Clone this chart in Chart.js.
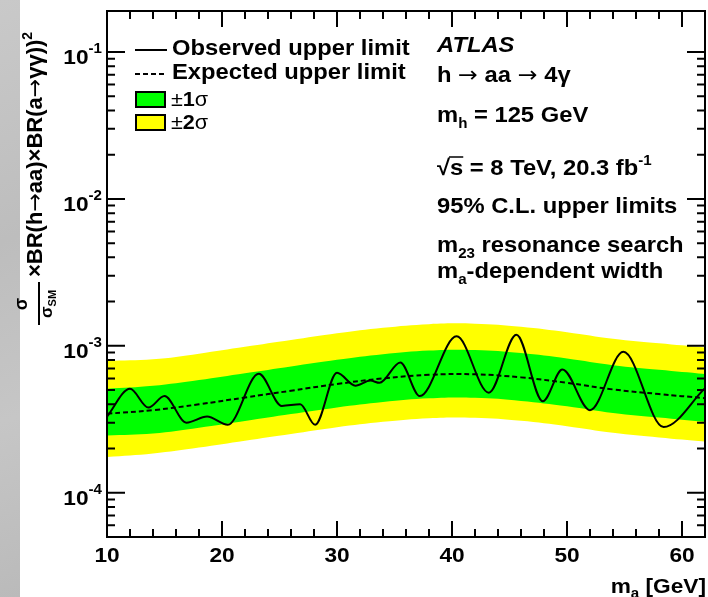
<!DOCTYPE html>
<html>
<head>
<meta charset="utf-8">
<script src="https://cdn.jsdelivr.net/npm/chart.js@4/dist/chart.umd.min.js"></script>
<style>
    html, body { margin: 0; padding: 0; background: #ffffff; }
    #wrap { position: relative; width: 708px; height: 597px; }
    #strip {
        position: absolute; left: 0; top: 0; width: 20px; height: 597px;
        background: linear-gradient(160deg, #c9c9c9 0%, #bdbdbd 40%, #c6c6c6 70%, #bababa 100%);
    }
    #limits { position: absolute; left: 0; top: 0; }
</style>
</head>
<body>
<div id="wrap">
    <div id="strip"></div>
    <canvas id="limits" width="708" height="597"></canvas>
</div>
<script>
// Expected limit and its bands, sampled every 4 GeV
const massGrid = [10, 14, 18, 22, 26, 30, 34, 38, 42, 46, 50, 54, 58, 62];
const expectedLimit = [3.45e-4, 3.65e-4, 4.0e-4, 4.45e-4, 4.95e-4, 5.5e-4, 6.0e-4, 6.35e-4, 6.4e-4, 6.1e-4, 5.6e-4, 5.05e-4, 4.7e-4, 4.4e-4];
const band1Low = [2.45e-4, 2.53e-4, 2.77e-4, 3.08e-4, 3.43e-4, 3.81e-4, 4.15e-4, 4.39e-4, 4.43e-4, 4.22e-4, 3.88e-4, 3.49e-4, 3.25e-4, 3.04e-4];
const band1High = [5.1e-4, 5.34e-4, 5.85e-4, 6.51e-4, 7.24e-4, 8.04e-4, 8.77e-4, 9.28e-4, 9.36e-4, 8.92e-4, 8.19e-4, 7.38e-4, 6.87e-4, 6.43e-4];
const band2Low = [1.75e-4, 1.85e-4, 2.03e-4, 2.26e-4, 2.51e-4, 2.79e-4, 3.04e-4, 3.22e-4, 3.24e-4, 3.09e-4, 2.84e-4, 2.56e-4, 2.38e-4, 2.23e-4];
const band2High = [7.9e-4, 8.1e-4, 8.85e-4, 9.85e-4, 1.095e-3, 1.217e-3, 1.328e-3, 1.405e-3, 1.416e-3, 1.35e-3, 1.239e-3, 1.118e-3, 1.04e-3, 9.74e-4];

// Observed limit (turning points of the curve)
const observedMass = [10, 12.0, 13.6, 15.0, 16.9, 18.7, 20.5, 23.2, 25.2, 26.8, 28.1, 30.0, 31.6, 32.9, 33.7, 35.5, 37.2, 40.4, 43.2, 45.6, 47.9, 49.6, 52.0, 54.9, 58.4, 62];
const observedLimit = [3.3e-4, 5.1e-4, 3.8e-4, 4.55e-4, 3.0e-4, 3.3e-4, 2.9e-4, 6.45e-4, 3.9e-4, 4.0e-4, 2.9e-4, 6.55e-4, 5.35e-4, 5.8e-4, 5.6e-4, 7.7e-4, 4.55e-4, 1.16e-3, 4.8e-4, 1.19e-3, 4.2e-4, 6.9e-4, 3.65e-4, 9.1e-4, 2.8e-4, 5.15e-4];

const xTickLabels = [10, 20, 30, 40, 50, 60];
const yDecades = [-1, -2, -3, -4];

const FAMILY = '"Liberation Sans", Arial, Helvetica, sans-serif';
const BIG = `bold 22px ${FAMILY}`;
const SMALL = `bold 14px ${FAMILY}`;
const TICK = `bold 21px ${FAMILY}`;
const ARROW = '22px "DejaVu Sans", sans-serif';
const STRETCH = 1.08;

const toPoints = (xs, ys) => xs.map((x, i) => ({ x, y: ys[i] }));

// draws a run of text pieces (each with its own font / vertical offset)
const richWidth = (ctx, parts) => parts.reduce((w, p) => {
    ctx.font = p.font;
    return w + ctx.measureText(p.text).width;
}, 0);

const richText = (ctx, x, y, parts, stretch = STRETCH) => {
    ctx.save();
    ctx.translate(x, y);
    ctx.scale(stretch, 1);
    let cx = 0;
    const spans = [];
    parts.forEach(p => {
        ctx.font = p.font;
        ctx.fillText(p.text, cx, p.dy || 0);
        const w = ctx.measureText(p.text).width;
        spans.push([cx * stretch + x, (cx + w) * stretch + x]);
        cx += w;
    });
    ctx.restore();
    return spans;
};

const framePlugin = {
    id: 'frame',
    afterDraw(chart) {
        const { ctx, chartArea: a, scales: { x, y } } = chart;
        ctx.save();
        ctx.strokeStyle = '#000';
        ctx.fillStyle = '#000';
        ctx.lineWidth = 2;
        ctx.strokeRect(a.left, a.top, a.right - a.left, a.bottom - a.top);

        // x ticks, inside on top and bottom
        ctx.beginPath();
        for (let m = 10; m <= 62; m += 2) {
            const px = x.getPixelForValue(m);
            const len = m % 10 === 0 ? 16 : 8;
            ctx.moveTo(px, a.bottom); ctx.lineTo(px, a.bottom - len);
            ctx.moveTo(px, a.top); ctx.lineTo(px, a.top + len);
        }
        // y ticks, inside on left and right
        for (let k = -5; k <= -1; k++) {
            for (let d = 1; d <= 9; d++) {
                const v = d * Math.pow(10, k);
                if (v < y.min || v > y.max) continue;
                const py = y.getPixelForValue(v);
                const len = d === 1 ? 18 : 8;
                ctx.moveTo(a.left, py); ctx.lineTo(a.left + len, py);
                ctx.moveTo(a.right, py); ctx.lineTo(a.right - len, py);
            }
        }
        ctx.stroke();

        ctx.textBaseline = 'alphabetic';
        ctx.textAlign = 'left';

        // y tick labels 10^k
        yDecades.forEach(k => {
            const py = y.getPixelForValue(Math.pow(10, k));
            const parts = [
                { text: '10', font: TICK },
                { text: '-' + (-k), font: SMALL, dy: -11 }
            ];
            const w = richWidth(ctx, parts) * STRETCH;
            richText(ctx, 102 - w, py + 12, parts);
        });

        // x tick labels
        xTickLabels.forEach(m => {
            const px = x.getPixelForValue(m);
            ctx.font = TICK;
            const w = ctx.measureText(String(m)).width * STRETCH;
            richText(ctx, px - w / 2, 562, [{ text: String(m), font: TICK }]);
        });

        // x title
        const xTitle = [
            { text: 'm', font: TICK },
            { text: 'a', font: SMALL, dy: 5 },
            { text: ' [GeV]', font: TICK }
        ];
        const xw = richWidth(ctx, xTitle) * STRETCH;
        richText(ctx, 706 - xw, 593, xTitle);

        // y title, rotated; text baseline sits at x = 42
        ctx.save();
        ctx.translate(42, 327);
        ctx.rotate(-Math.PI / 2);
        const fracC = 23;
        ctx.font = `bold 18px ${FAMILY}`;
        const sw = ctx.measureText('σ').width;
        ctx.fillText('σ', fracC - sw / 2, -15);
        ctx.beginPath();
        ctx.moveTo(2, -3); ctx.lineTo(45, -3);
        ctx.stroke();
        const den = [
            { text: 'σ', font: `bold 17px ${FAMILY}` },
            { text: 'SM', font: `bold 11px ${FAMILY}`, dy: 4 }
        ];
        const dw = richWidth(ctx, den);
        richText(ctx, fracC - dw / 2, 10, den, 1);
        richText(ctx, 50, 0, [
            { text: '×BR(h', font: BIG },
            { text: '→', font: ARROW },
            { text: 'aa)×BR(a', font: BIG },
            { text: '→', font: ARROW },
            { text: 'γγ))', font: BIG },
            { text: '2', font: SMALL, dy: -10 }
        ], 1);
        ctx.restore();

        // legend
        ctx.lineWidth = 2;
        ctx.beginPath();
        ctx.moveTo(135, 50); ctx.lineTo(167, 50);
        ctx.stroke();
        ctx.setLineDash([5, 3]);
        ctx.beginPath();
        ctx.moveTo(135, 74); ctx.lineTo(167, 74);
        ctx.stroke();
        ctx.setLineDash([]);
        ctx.fillStyle = '#00ff00';
        ctx.fillRect(136, 92, 29, 15);
        ctx.strokeRect(136, 92, 29, 15);
        ctx.fillStyle = '#ffff00';
        ctx.fillRect(136, 115, 29, 15);
        ctx.strokeRect(136, 115, 29, 15);
        ctx.fillStyle = '#000';

        richText(ctx, 172, 55, [{ text: 'Observed upper limit', font: BIG }]);
        richText(ctx, 172, 79, [{ text: 'Expected upper limit', font: BIG }]);
        const thin = `20px ${FAMILY}`;
        richText(ctx, 171, 106, [
            { text: '±', font: thin }, { text: '1', font: `bold 20px ${FAMILY}` }, { text: 'σ', font: thin }
        ]);
        richText(ctx, 171, 129, [
            { text: '±', font: thin }, { text: '2', font: `bold 20px ${FAMILY}` }, { text: 'σ', font: thin }
        ]);

        // labels on the right
        const tx = 437;
        richText(ctx, tx, 52, [{ text: 'ATLAS', font: `italic bold 22px ${FAMILY}` }]);
        richText(ctx, tx, 82, [
            { text: 'h ', font: BIG }, { text: '→', font: ARROW },
            { text: ' aa ', font: BIG }, { text: '→', font: ARROW }, { text: ' 4γ', font: BIG }
        ]);
        richText(ctx, tx, 122, [
            { text: 'm', font: BIG }, { text: 'h', font: SMALL, dy: 6 }, { text: ' = 125 GeV', font: BIG }
        ]);
        const rootSpans = richText(ctx, tx, 175, [
            { text: '√', font: BIG }, { text: 's', font: BIG },
            { text: ' = 8 TeV, 20.3 fb', font: BIG }, { text: '-1', font: SMALL, dy: -10 }
        ]);
        ctx.lineWidth = 1.5;
        ctx.beginPath();
        ctx.moveTo(rootSpans[1][0] - 1, 157);
        ctx.lineTo(rootSpans[1][1], 157);
        ctx.stroke();
        richText(ctx, tx, 213, [{ text: '95% C.L. upper limits', font: BIG }]);
        richText(ctx, tx, 252, [
            { text: 'm', font: BIG }, { text: '23', font: SMALL, dy: 6 }, { text: ' resonance search', font: BIG }
        ]);
        richText(ctx, tx, 278, [
            { text: 'm', font: BIG }, { text: 'a', font: SMALL, dy: 6 }, { text: '-dependent width', font: BIG }
        ]);
        ctx.restore();
    }
};

const ctx = document.getElementById('limits').getContext('2d');

new Chart(ctx, {
    type: 'line',
    data: {
        datasets: [
            {
                label: 'Observed upper limit',
                data: toPoints(observedMass, observedLimit),
                borderColor: '#000',
                borderWidth: 2,
                cubicInterpolationMode: 'monotone',
                fill: false
            },
            {
                label: 'Expected upper limit',
                data: toPoints(massGrid, expectedLimit),
                borderColor: '#000',
                borderWidth: 2,
                borderDash: [5, 3],
                tension: 0.4,
                fill: false
            },
            {
                label: '+1 sigma',
                data: toPoints(massGrid, band1High),
                borderWidth: 0,
                borderColor: 'rgba(0,0,0,0)',
                backgroundColor: '#00ff00',
                tension: 0.4,
                fill: '+1'
            },
            {
                label: '-1 sigma',
                data: toPoints(massGrid, band1Low),
                borderWidth: 0,
                borderColor: 'rgba(0,0,0,0)',
                tension: 0.4,
                fill: false
            },
            {
                label: '+2 sigma',
                data: toPoints(massGrid, band2High),
                borderWidth: 0,
                borderColor: 'rgba(0,0,0,0)',
                backgroundColor: '#ffff00',
                tension: 0.4,
                fill: '+1'
            },
            {
                label: '-2 sigma',
                data: toPoints(massGrid, band2Low),
                borderWidth: 0,
                borderColor: 'rgba(0,0,0,0)',
                tension: 0.4,
                fill: false
            }
        ]
    },
    options: {
        responsive: false,
        animation: false,
        layout: { padding: { top: 11, right: 3, left: 0, bottom: 0 } },
        elements: { point: { radius: 0 } },
        plugins: {
            legend: { display: false },
            tooltip: { enabled: false }
        },
        scales: {
            x: {
                type: 'linear',
                min: 10,
                max: 62,
                grid: { display: false, drawTicks: false },
                border: { display: false },
                ticks: { display: false },
                afterFit: (scale) => { scale.height = 60; }
            },
            y: {
                type: 'logarithmic',
                min: 5e-5,
                max: 0.19,
                grid: { display: false, drawTicks: false },
                border: { display: false },
                ticks: { display: false },
                afterFit: (scale) => { scale.width = 107; }
            }
        }
    },
    plugins: [framePlugin]
});
</script>
</body>
</html>
